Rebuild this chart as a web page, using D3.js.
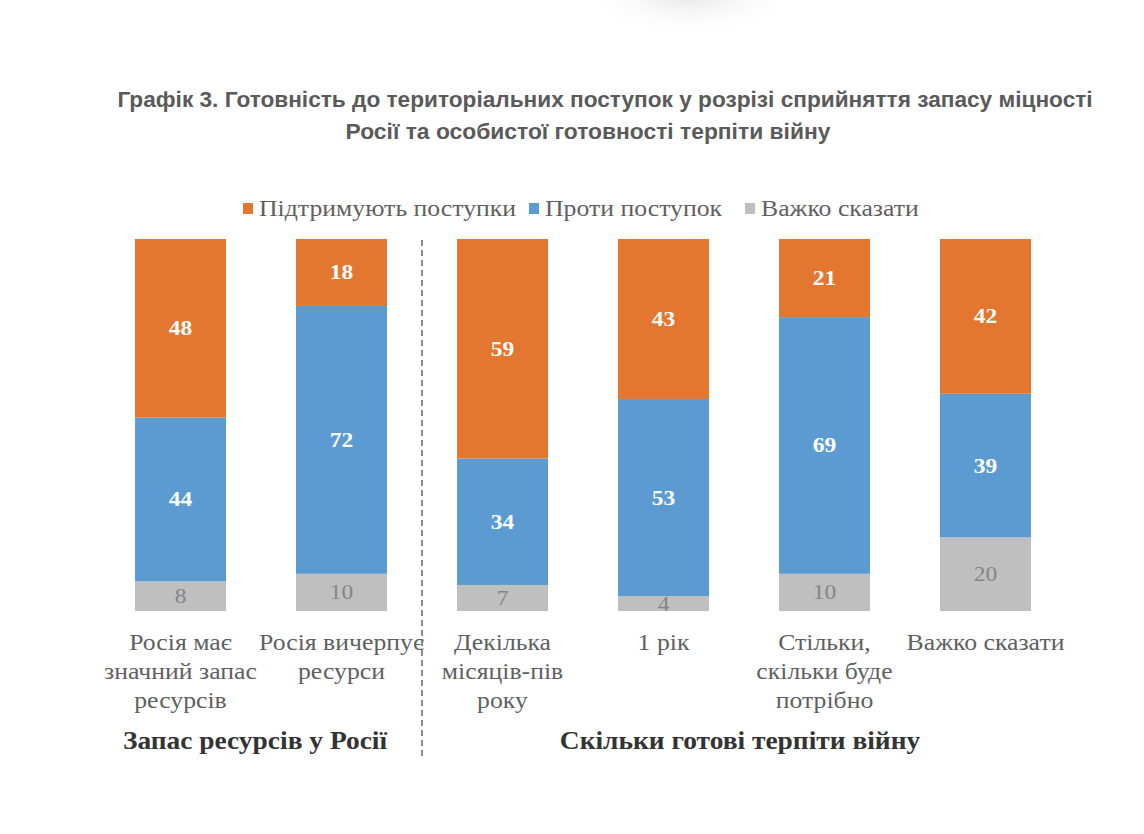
<!DOCTYPE html>
<html>
<head>
<meta charset="utf-8">
<script src="https://cdn.jsdelivr.net/npm/d3@7"></script>
<style>
  html, body { margin: 0; padding: 0; background: #ffffff; }
  svg { display: block; }
</style>
</head>
<body>
<svg id="chart" width="1144" height="834"></svg>
<script>
// ---- data ----
const titleLines = [
  "Графік 3. Готовність до територіальних поступок у розрізі сприйняття запасу міцності",
  "Росії та особистої готовності терпіти війну"
];
const categories = [
  "Росія має\nзначний запас\nресурсів",
  "Росія вичерпує\nресурси",
  "Декілька\nмісяців-пів\nроку",
  "1 рік",
  "Стільки,\nскільки буде\nпотрібно",
  "Важко сказати"
];
const seriesNames = ["Підтримують поступки", "Проти поступок", "Важко сказати"];
const support = [48, 18, 59, 43, 21, 42];
const against = [44, 72, 34, 53, 69, 39];
const hard    = [8, 10, 7, 4, 10, 20];
const groupLabels = ["Запас ресурсів у Росії", "Скільки готові терпіти війну"];

// ---- setup ----
const svg = d3.select("#chart");
const colors = ["#e3772f", "#5c9bd2", "#bfbfbf"];
const serif = "'Liberation Serif', 'Times New Roman', serif";
const sansNarrow = "'Liberation Sans Narrow', 'Arial Narrow', 'Liberation Sans', Arial, sans-serif";
const stretch = 1.12;

// helper: horizontally stretched text anchored at (cx, cy)
function sText(parent, cx, cy, anchor) {
  return parent.append("g").attr("transform", `translate(${cx},${cy}) scale(${stretch},1)`)
    .append("text").attr("x", 0).attr("y", 0).attr("text-anchor", anchor || "middle");
}

// soft blurred shape at top
const defs = svg.append("defs");
const rg = defs.append("radialGradient").attr("id", "blob");
rg.append("stop").attr("offset", "0%").attr("stop-color", "#e4e4e4");
rg.append("stop").attr("offset", "100%").attr("stop-color", "#ffffff").attr("stop-opacity", 0);
svg.append("ellipse").attr("cx", 690).attr("cy", -5).attr("rx", 110).attr("ry", 40).attr("fill", "url(#blob)");

// title: fit font size to the target line width
const titleSpec = [{ cx: 605, y: 107, w: 976 }, { cx: 588, y: 139, w: 485 }];
titleLines.forEach((line, k) => {
  const t = svg.append("text").attr("x", titleSpec[k].cx).attr("y", titleSpec[k].y)
    .attr("text-anchor", "middle")
    .attr("font-family", sansNarrow).attr("font-weight", "bold").attr("font-size", 24)
    .attr("fill", "#5a5a5a").text(line);
  const len = t.node().getComputedTextLength();
  if (len > 0) t.attr("font-size", Math.min(25, 24 * titleSpec[k].w / len));
});

// scales
const x = d3.scaleBand().domain(d3.range(categories.length)).range([100, 1066])
  .paddingInner(0.435).paddingOuter(0.2175);
const y = d3.scaleLinear().domain([0, 1]).range([611, 239]);

const rows = categories.map((c, i) => ({ i, s0: support[i], s1: against[i], s2: hard[i] }));
const keys = ["s0", "s1", "s2"];
const stack = d3.stack().keys(["s2", "s1", "s0"]).offset(d3.stackOffsetExpand);
const layers = stack(rows);

const g = svg.append("g");
layers.forEach(layer => {
  const ki = keys.indexOf(layer.key);
  g.selectAll(null).data(layer).enter().append("rect")
    .attr("x", d => x(d.data.i))
    .attr("width", x.bandwidth())
    .attr("y", d => y(d[1]))
    .attr("height", d => y(d[0]) - y(d[1]))
    .attr("fill", colors[ki]);
});
layers.forEach(layer => {
  const ki = keys.indexOf(layer.key);
  layer.forEach(d => {
    sText(g, x(d.data.i) + x.bandwidth() / 2, (y(d[0]) + y(d[1])) / 2 + 7)
      .attr("font-family", serif)
      .attr("font-size", 21)
      .attr("font-weight", ki === 2 ? "normal" : "bold")
      .attr("fill", ki === 2 ? "#858585" : "#ffffff")
      .text(d.data[layer.key]);
  });
});

// category labels
categories.forEach((c, i) => {
  c.split("\n").forEach((line, k) => {
    sText(svg, x(i) + x.bandwidth() / 2, 650 + k * 29)
      .attr("font-family", serif).attr("font-size", 23).attr("fill", "#5f5f5f")
      .text(line);
  });
});

// dashed separator
const sepX = x(1) + x.bandwidth() + (x.step() - x.bandwidth()) / 2;
svg.append("line").attr("x1", sepX).attr("x2", sepX).attr("y1", 240).attr("y2", 757)
  .attr("stroke", "#6a6a6a").attr("stroke-width", 1.5).attr("stroke-dasharray", "6,4");

// group labels
const groupCenters = [255, 740];
groupLabels.forEach((lbl, k) => {
  sText(svg, groupCenters[k], 749)
    .attr("font-family", serif).attr("font-weight", "bold").attr("font-size", 24.5)
    .attr("fill", "#333333").text(lbl);
});

// legend
const legendX = [243, 529, 745];
seriesNames.forEach((name, k) => {
  svg.append("rect").attr("x", legendX[k]).attr("y", 203).attr("width", 10).attr("height", 11)
    .attr("fill", colors[k]);
  sText(svg, legendX[k] + 16, 216, "start")
    .attr("font-family", serif).attr("font-size", 23).attr("fill", "#5f5f5f").text(name);
});
</script>
</body>
</html>
